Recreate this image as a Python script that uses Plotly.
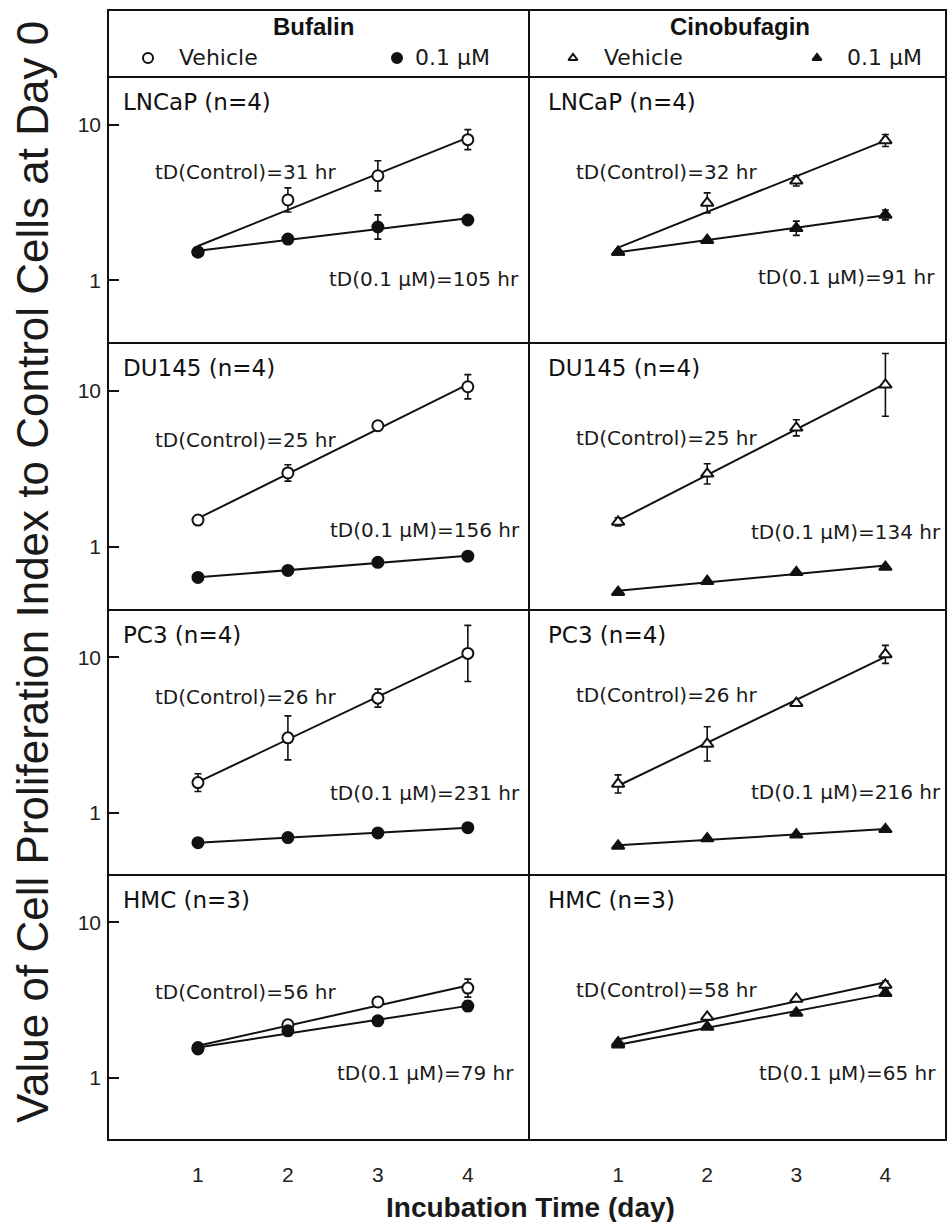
import numpy as np
import plotly.graph_objects as go

# ---------------- data ----------------
days = [1, 2, 3, 4]
drugs = ["Bufalin", "Cinobufagin"]
cell_lines = ["LNCaP (n=4)", "DU145 (n=4)", "PC3 (n=4)", "HMC (n=3)"]
legend_labels = ["Vehicle", "0.1 \u00b5M"]

# Bufalin, vehicle / 0.1 uM (mean) and upper error (SE)
buf_lncap_veh = [1.52, 3.28, 4.69, 8.0]
buf_lncap_veh_err = [0.0, 0.64, 1.17, 1.28]
buf_lncap_trt = [1.52, 1.84, 2.20, 2.44]
buf_lncap_trt_err = [0.0, 0.0, 0.43, 0.0]

buf_du145_veh = [1.49, 2.98, 5.97, 10.6]
buf_du145_veh_err = [0.0, 0.38, 0.27, 2.07]
buf_du145_trt = [0.64, 0.71, 0.80, 0.875]
buf_du145_trt_err = [0.0, 0.0, 0.0, 0.0]

buf_pc3_veh = [1.56, 3.03, 5.46, 10.6]
buf_pc3_veh_err = [0.22, 1.17, 0.78, 5.46]
buf_pc3_trt = [0.64, 0.69, 0.74, 0.80]
buf_pc3_trt_err = [0.0, 0.0, 0.0, 0.0]

buf_hmc_veh = [1.56, 2.19, 3.07, 3.77]
buf_hmc_veh_err = [0.0, 0.0, 0.0, 0.54]
buf_hmc_trt = [1.53, 2.00, 2.32, 2.89]
buf_hmc_trt_err = [0.0, 0.0, 0.0, 0.22]

# Cinobufagin
cin_lncap_veh = [1.52, 3.14, 4.35, 7.9]
cin_lncap_veh_err = [0.0, 0.50, 0.34, 0.73]
cin_lncap_trt = [1.52, 1.81, 2.16, 2.63]
cin_lncap_trt_err = [0.0, 0.0, 0.24, 0.20]

cin_du145_veh = [1.45, 2.94, 5.79, 10.9]
cin_du145_veh_err = [0.09, 0.47, 0.73, 6.4]
cin_du145_trt = [0.515, 0.605, 0.69, 0.745]
cin_du145_trt_err = [0.0, 0.0, 0.0, 0.0]

cin_pc3_veh = [1.53, 2.77, 5.07, 10.45]
cin_pc3_veh_err = [0.22, 0.80, 0.0, 1.50]
cin_pc3_trt = [0.61, 0.68, 0.72, 0.78]
cin_pc3_trt_err = [0.0, 0.0, 0.0, 0.0]

cin_hmc_veh = [1.68, 2.46, 3.21, 3.95]
cin_hmc_veh_err = [0.0, 0.0, 0.0, 0.24]
cin_hmc_trt = [1.63, 2.12, 2.61, 3.50]
cin_hmc_trt_err = [0.0, 0.0, 0.0, 0.0]

# doubling times (hr)
buf_td_control = [31, 25, 26, 56]
buf_td_treated = [105, 156, 231, 79]
cin_td_control = [32, 25, 26, 58]
cin_td_treated = [91, 134, 216, 65]

x_tick_labels = ["1", "2", "3", "4"]
y_tick_vals = [1, 10]
y_tick_labels = ["1", "10"]

# ---------------- assembly ----------------
vehicle = [
    [buf_lncap_veh, buf_du145_veh, buf_pc3_veh, buf_hmc_veh],
    [cin_lncap_veh, cin_du145_veh, cin_pc3_veh, cin_hmc_veh],
]
vehicle_err = [
    [buf_lncap_veh_err, buf_du145_veh_err, buf_pc3_veh_err, buf_hmc_veh_err],
    [cin_lncap_veh_err, cin_du145_veh_err, cin_pc3_veh_err, cin_hmc_veh_err],
]
treated = [
    [buf_lncap_trt, buf_du145_trt, buf_pc3_trt, buf_hmc_trt],
    [cin_lncap_trt, cin_du145_trt, cin_pc3_trt, cin_hmc_trt],
]
treated_err = [
    [buf_lncap_trt_err, buf_du145_trt_err, buf_pc3_trt_err, buf_hmc_trt_err],
    [cin_lncap_trt_err, cin_du145_trt_err, cin_pc3_trt_err, cin_hmc_trt_err],
]
td_control = [buf_td_control, cin_td_control]
td_treated = [buf_td_treated, cin_td_treated]

W, H = 947, 1222
def px(x):
    return x / W
def py(y):
    return 1 - y / H

col_x = [(108, 529), (529, 946)]
row_y = [(77, 343), (343, 610), (610, 875), (875, 1140)]

open_symbol = ["circle", "triangle-up"]
BLACK = "#111111"
TXT = "DejaVu Sans"
ARIAL = "Liberation Sans"

fig = go.Figure()
layout = dict(
    width=W, height=H, margin=dict(l=0, r=0, t=0, b=0),
    paper_bgcolor="white", plot_bgcolor="white", showlegend=False,
)
annotations = []
shapes = []


def err_kw(vals, err):
    v = np.array(vals, float)
    e = np.array(err, float)
    minus = v - v * v / (v + e)
    return dict(type="data", array=e, arrayminus=minus, visible=True,
                color=BLACK, thickness=1.6, width=3.5)


for c in range(2):
    for r in range(4):
        idx = r * 2 + c + 1
        xa = "x" if idx == 1 else f"x{idx}"
        ya = "y" if idx == 1 else f"y{idx}"
        x0, x1 = col_x[c]
        y0, y1 = row_y[r]
        layout["xaxis" if idx == 1 else f"xaxis{idx}"] = dict(
            domain=[px(x0), px(x1)], range=[0, 4.68], anchor=ya,
            showgrid=False, zeroline=False, showline=False,
            tickmode="array", tickvals=days, ticktext=x_tick_labels,
            ticks="", showticklabels=(r == 3), ticklabelstandoff=20,
            tickfont=dict(family=ARIAL, size=21, color="#222222"),
        )
        layout["yaxis" if idx == 1 else f"yaxis{idx}"] = dict(
            domain=[py(y1), py(y0)], type="log", range=[-0.402, 1.305],
            anchor=xa, showgrid=False, zeroline=False, showline=False,
            tickmode="array", tickvals=y_tick_vals, ticktext=y_tick_labels,
            ticks="inside" if c == 0 else "", ticklen=11, tickwidth=2,
            tickcolor=BLACK, showticklabels=(c == 0), ticklabelstandoff=6,
            tickfont=dict(family=ARIAL, size=21, color="#222222"),
        )

        series = [(vehicle[c][r], vehicle_err[c][r], "white"),
                  (treated[c][r], treated_err[c][r], BLACK)]
        # fitted exponential growth lines (log-linear least squares)
        for vals, _, _ in series:
            slope, icpt = np.polyfit(days, np.log10(vals), 1)
            xs = np.array([days[0], days[-1]], float)
            fig.add_trace(go.Scatter(
                x=xs, y=10 ** (slope * xs + icpt), mode="lines",
                line=dict(color=BLACK, width=2), xaxis=xa, yaxis=ya,
                hoverinfo="skip"))
        for vals, err, fill in series:
            fig.add_trace(go.Scatter(
                x=days, y=vals, mode="markers", xaxis=xa, yaxis=ya,
                error_y=err_kw(vals, err),
                marker=dict(symbol=open_symbol[c], size=11, color=fill,
                            line=dict(color=BLACK, width=2))))

        # panel label
        annotations.append(dict(
            x=px(x0 + 13 if c == 0 else x0 + 17), y=py(y0 + 25),
            xref="paper", yref="paper", xanchor="left", yanchor="middle",
            text=cell_lines[r], showarrow=False,
            font=dict(family=TXT, size=23, color=BLACK)))

ctrl_y = [[172, 440, 697, 992], [172, 438, 695, 990]]
ctrl_x = [153, 574]
trt_y = [[279, 530, 793, 1073], [277, 532, 792, 1073]]
trt_x = [[521, 522, 522, 516], [937, 943, 943, 938]]
for c in range(2):
    for r in range(4):
        annotations.append(dict(
            x=px(ctrl_x[c]), y=py(ctrl_y[c][r]), xref="paper", yref="paper",
            xanchor="left", yanchor="middle", showarrow=False,
            text=f"tD(Control)={td_control[c][r]} hr",
            font=dict(family=TXT, size=20, color="#1a1a1a")))
        annotations.append(dict(
            x=px(trt_x[c][r]), y=py(trt_y[c][r]), xref="paper", yref="paper",
            xanchor="right", yanchor="middle", showarrow=False,
            text=f"tD(0.1 \u00b5M)={td_treated[c][r]} hr",
            font=dict(family=TXT, size=20, color="#1a1a1a")))

# header: titles and legend keys
layout["xaxis9"] = dict(domain=[px(108), px(946)], range=[0, 1], visible=False,
                        anchor="y9", fixedrange=True)
layout["yaxis9"] = dict(domain=[py(77), py(10)], range=[0, 1], visible=False,
                        anchor="x9", fixedrange=True)
title_x = [313, 740]
key_x = [[148, 397], [573, 817]]
key_text_x = [[177, 413], [602, 845]]
for c in range(2):
    annotations.append(dict(
        x=px(title_x[c]), y=py(27), xref="paper", yref="paper",
        xanchor="center", yanchor="middle", showarrow=False,
        text=f"<b>{drugs[c]}</b>", font=dict(family=ARIAL, size=24, color=BLACK)))
    for k in range(2):
        fig.add_trace(go.Scatter(
            x=[(key_x[c][k] - 108) / 838], y=[(77 - 58) / 67], mode="markers",
            xaxis="x9", yaxis="y9", hoverinfo="skip",
            marker=dict(symbol=open_symbol[c], size=10 if c == 0 else 8,
                        color="white" if k == 0 else BLACK,
                        line=dict(color=BLACK, width=2))))
        annotations.append(dict(
            x=px(key_text_x[c][k]), y=py(58), xref="paper", yref="paper",
            xanchor="left", yanchor="middle", showarrow=False,
            text=legend_labels[k], font=dict(family=TXT, size=22, color="#1a1a1a")))

# axis titles
annotations.append(dict(
    x=px(32), y=py(572), xref="paper", yref="paper", xanchor="center",
    yanchor="middle", showarrow=False, textangle=-90,
    text="Value of Cell Proliferation Index to Control Cells at Day 0",
    font=dict(family=ARIAL, size=44, color="#1a1a1a")))
annotations.append(dict(
    x=px(530), y=py(1207), xref="paper", yref="paper", xanchor="center",
    yanchor="middle", showarrow=False, text="<b>Incubation Time (day)</b>",
    font=dict(family=ARIAL, size=28, color="#1a1a1a")))

# frame lines
LW = 2
shapes.append(dict(type="rect", xref="paper", yref="paper",
                   x0=px(108), x1=px(946), y0=py(1140), y1=py(10),
                   line=dict(color=BLACK, width=LW)))
shapes.append(dict(type="line", xref="paper", yref="paper",
                   x0=px(529), x1=px(529), y0=py(1140), y1=py(10),
                   line=dict(color=BLACK, width=LW)))
for yb in [77, 343, 610, 875]:
    shapes.append(dict(type="line", xref="paper", yref="paper",
                       x0=px(108), x1=px(946), y0=py(yb), y1=py(yb),
                       line=dict(color=BLACK, width=LW)))

layout["annotations"] = annotations
layout["shapes"] = shapes
fig.update_layout(**layout)
fig.write_html(
    "out.html",
    config={"displayModeBar": False},
    post_script="document.body.style.margin='0px';document.body.style.overflow='hidden';",
)
